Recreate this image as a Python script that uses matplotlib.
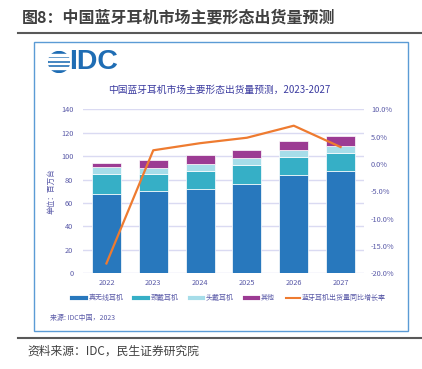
import numpy as np
import matplotlib
matplotlib.use("Agg")
import matplotlib.pyplot as plt
from matplotlib.lines import Line2D
from matplotlib.patches import Rectangle, Circle

plt.rcParams['font.family'] = ['Noto Sans CJK SC', 'DejaVu Sans']

# ── data ──────────────────────────────────────────────
years = ["2022", "2023", "2024", "2025", "2026", "2027"]
tws = [68.0, 70.0, 72.3, 76.5, 83.7, 87.1]        # 真无线耳机
neck = [16.5, 14.8, 15.1, 15.7, 15.9, 15.9]       # 颈戴耳机
head = [6.3, 5.4, 5.9, 6.0, 5.7, 5.7]             # 头戴耳机
other = [3.7, 6.8, 7.4, 7.1, 7.7, 8.3]            # 其他
growth = [-18.2, 2.5, 3.8, 4.8, 7.0, 3.1]         # 同比增长率 %

series_names = ["真无线耳机", "颈戴耳机", "头戴耳机", "其他"]
line_name = "蓝牙耳机出货量同比增长率"
colors = ["#2878bd", "#36afc6", "#a6dde9", "#9c3b93"]
line_color = "#ee7b30"
tick_color = "#5a5aa8"
grid_color = "#dadaf2"

W, H = 422, 369
fig = plt.figure(figsize=(W / 100, H / 100), dpi=100)


def fx(px):
    return px / W


def fy(py):
    return 1 - py / H


# header / footer
fig.text(fx(22), fy(18), "图8：中国蓝牙耳机市场主要形态出货量预测", fontsize=11.5,
         fontweight="bold", color="#404040", va="center", ha="left")
fig.add_artist(Line2D([fx(18), 1], [fy(33), fy(33)], color="#595959", lw=1.5))
fig.add_artist(Line2D([fx(18), 1], [fy(338), fy(338)], color="#595959", lw=1.5))
fig.text(fx(27), fy(351), "资料来源：IDC，民生证券研究院", fontsize=8.5,
         color="#404040", va="center", ha="left")

# framed box
fig.add_artist(Rectangle((fx(34), fy(331)), fx(408) - fx(34), fy(42) - fy(331),
                         transform=fig.transFigure, fill=False,
                         edgecolor="#5b9bd5", lw=1))

# IDC logo
lax = fig.add_axes([fx(48), fy(73), fx(70) - fx(48), fy(51) - fy(73)])
lax.set_xlim(-1, 1)
lax.set_ylim(-1, 1)
lax.set_aspect("equal")
lax.axis("off")
lax.add_patch(Circle((0, 0), 0.95, color="#1f6db4"))
for yy in [-0.6, -0.2, 0.2, 0.58]:
    lax.add_patch(Rectangle((-1, yy), 2, 0.13, color="white"))
fig.text(fx(69), fy(62), "IDC", fontsize=20.5, color="#1f6db4",
         family="Liberation Sans", fontweight="bold", va="center", ha="left")

fig.text(fx(219), fy(90), "中国蓝牙耳机市场主要形态出货量预测，2023-2027",
         fontsize=7, color="#3c3ca0", ha="center", va="center")

# main axes
ax = fig.add_axes([fx(83), fy(273.3), fx(364) - fx(83), fy(109.3) - fy(273.3)])
x = np.arange(len(years))
bottom = np.zeros(len(years))
for vals, c in zip([tws, neck, head, other], colors):
    ax.bar(x, vals, width=0.62, bottom=bottom, color=c, edgecolor="white",
           linewidth=0.5, zorder=3)
    bottom += np.array(vals)

ax.set_xlim(-0.5, 5.5)
ax.set_ylim(0, 140)
ax.set_yticks(np.arange(0, 141, 20))
ax.set_xticks(x)
ax.set_xticklabels(years)
ax.grid(axis="y", color=grid_color, lw=1, zorder=0)
for s in ax.spines.values():
    s.set_visible(False)
ax.tick_params(axis="both", length=0, labelsize=5.3, colors=tick_color)
ax.tick_params(axis="x", pad=4)
ax.tick_params(axis="y", pad=7)
ax.set_ylabel("单位：百万台", fontsize=5.5, color=tick_color, labelpad=4)

ax2 = ax.twinx()
ax2.plot(x, growth, color=line_color, lw=1.6, zorder=5)
ax2.set_ylim(-20, 10)
ax2.set_yticks(np.arange(-20, 11, 5))
ax2.set_yticklabels([f"{v:.1f}%" for v in np.arange(-20, 11, 5)])
for s in ax2.spines.values():
    s.set_visible(False)
ax2.tick_params(axis="y", length=0, labelsize=5.3, colors=tick_color, pad=5)

# legend
handles = [Line2D([], [], color=c, lw=3) for c in colors]
handles.append(Line2D([], [], color=line_color, lw=1.5))
fig.legend(handles, series_names + [line_name], loc="center",
           bbox_to_anchor=(fx(229), fy(298)), ncol=5, frameon=False,
           fontsize=5, labelcolor=tick_color, handlelength=2.0,
           handletextpad=0.3, columnspacing=1.6)

fig.text(fx(50), fy(318), "来源: IDC中国，2023", fontsize=5,
         color=tick_color, ha="left", va="center")

fig.savefig("out.png", dpi=100)
